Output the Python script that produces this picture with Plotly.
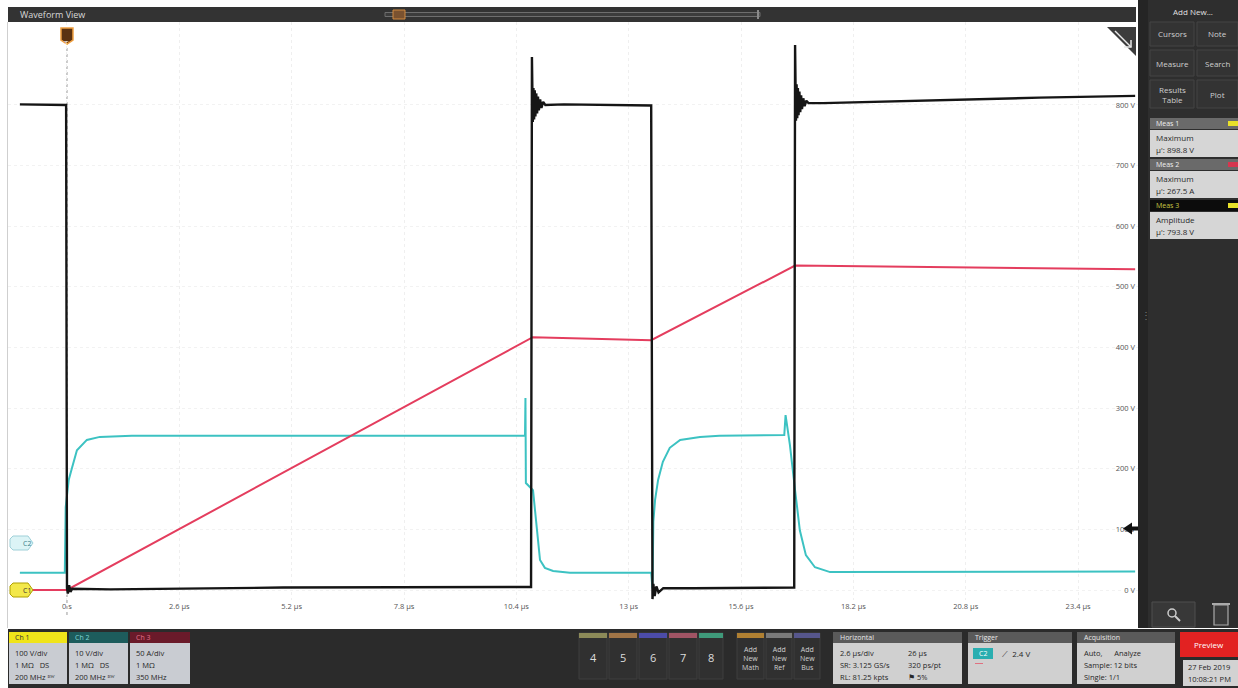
import plotly.graph_objects as go

W, H = 1238, 688
FONT = "Open Sans"

# Vertical channel settings (per graticule division)
CH1_V_PER_DIV = 100      # Ch 1, volts/div
CH2_V_PER_DIV = 10       # Ch 2, volts/div
CH3_A_PER_DIV = 50       # Ch 3, amps/div
CH2_OFFSET_DIV = 0.775   # Ch 2 ground marker position, divisions above Ch 1 ground
TRIG_LEVEL_V = 2.4       # trigger level on Ch 2

# Ch 1 (black) - collector voltage, time in µs, value in V
t_ch1 = [-1.09, -0.02, 0.0, 0.02, 0.05, 0.08, 0.12, 1.0, 5.0, 10.74,
         10.76, 10.78, 10.795, 10.81, 10.825, 10.84, 10.86, 10.88, 10.90, 10.92, 10.95, 10.98, 11.02, 11.07,
         11.5, 12.5, 13.52,
         13.55, 13.57, 13.60, 13.64, 13.69, 13.8, 14.5, 16.0, 16.83,
         16.85, 16.87, 16.885, 16.90, 16.915, 16.93, 16.95, 16.97, 16.99, 17.01, 17.04, 17.07, 17.11, 17.16,
         17.5, 20.0, 22.5, 24.72]
v_ch1 = [801, 800, 3, -6, 8, -3, 2, 1, 4, 5,
         879, 772, 828, 776, 824, 781, 819, 786, 814, 791, 809, 795, 805, 800,
         801, 800, 799,
         -15, 10, -10, 6, -4, 3, 3, 4, 4,
         899, 774, 834, 778, 828, 783, 822, 788, 816, 793, 811, 798, 807, 803,
         803, 808, 812, 815]

# Ch 2 (cyan) - gate voltage, time in µs, value in V
t_ch2 = [-1.09, -0.05, -0.03, 0.04, 0.12, 0.23, 0.46, 0.76, 1.5,
         10.60, 10.61, 10.62, 10.785, 10.877, 10.947, 11.06, 11.25, 11.64,
         13.52, 13.55, 13.57, 13.61, 13.68, 13.79, 13.95, 14.19, 14.65, 15.1,
         16.60, 16.63, 16.73, 16.85, 16.96, 17.10, 17.31, 17.66, 24.72]
v_ch2 = [-4.9, -4.9, 5.9, 10.4, 12.5, 15.3, 17.0, 17.5, 17.7,
         17.7, 23.9, 9.9, 8.7, 2.1, -2.8, -4.1, -4.6, -4.9,
         -4.9, -7.5, 3.5, 7.1, 10.4, 13.4, 15.7, 17.0, 17.5, 17.7,
         17.8, 21.1, 16.2, 8.7, 2.1, -2.0, -4.0, -4.8, -4.7]

# Ch 3 (red) - collector current, time in µs, value in A
t_ch3 = [-1.09, 0.0, 10.78, 13.52, 16.85, 24.72]
i_ch3 = [0.0, 0.0, 208.5, 206.0, 267.5, 264.5]

# Graticule labels
x_ticks = [0, 2.6, 5.2, 7.8, 10.4, 13.0, 15.6, 18.2, 20.8, 23.4]
x_tick_text = ["0 s", "2.6 µs", "5.2 µs", "7.8 µs", "10.4 µs", "13 µs",
               "15.6 µs", "18.2 µs", "20.8 µs", "23.4 µs"]
y_tick_volts = [0, 100, 200, 300, 400, 500, 600, 700, 800]
y_tick_text = ["0 V", "100 V", "200 V", "300 V", "400 V", "500 V", "600 V", "700 V", "800 V"]

# Measurement badges
meas_names = ["Meas 1", "Meas 2", "Meas 3"]
meas_types = ["Maximum", "Maximum", "Amplitude"]
meas_values = ["µ': 898.8 V", "µ': 267.5 A", "µ': 793.8 V"]

# Convert each channel into graticule divisions
y_ch1 = [v / CH1_V_PER_DIV for v in v_ch1]
y_ch2 = [v / CH2_V_PER_DIV + CH2_OFFSET_DIV for v in v_ch2]
y_ch3 = [a / CH3_A_PER_DIV for a in i_ch3]
y_tick_div = [v / CH1_V_PER_DIV for v in y_tick_volts]

fig = go.Figure()
fig.add_trace(go.Scatter(x=t_ch2, y=y_ch2, mode="lines", name="Ch 2",
                         line=dict(color="#3cc2c2", width=2)))
fig.add_trace(go.Scatter(x=t_ch3, y=y_ch3, mode="lines", name="Ch 3",
                         line=dict(color="#e43d5e", width=2)))
fig.add_trace(go.Scatter(x=t_ch1, y=y_ch1, mode="lines", name="Ch 1",
                         line=dict(color="#151515", width=2.4)))

shapes = []
annotations = []


def px(x):
    return x / W


def py(y):
    return 1 - y / H


def rect(x0, y0, x1, y1, fill, line=None, lw=0):
    shapes.append(dict(type="rect", xref="paper", yref="paper",
                       x0=px(x0), x1=px(x1), y0=py(y1), y1=py(y0),
                       fillcolor=fill, line=dict(color=line or fill, width=lw),
                       layer="above"))


def path(pts, fill, line=None, lw=0, xref="paper", yref="paper", closed=True):
    d = "M " + " L ".join(f"{a},{b}" for a, b in pts) + (" Z" if closed else "")
    shapes.append(dict(type="path", path=d, xref=xref, yref=yref,
                       fillcolor=fill, line=dict(color=line or fill, width=lw),
                       layer="above"))


def text(x, y, s, size=8, color="#ffffff", anchor="center"):
    annotations.append(dict(xref="paper", yref="paper", x=px(x), y=py(y), text=s,
                            showarrow=False, xanchor=anchor, yanchor="middle",
                            font=dict(family=FONT, size=size, color=color)))


# Plot frame edge
rect(7, 22, 8, 628, "#cfcfcf")

# Title strip with timeline overview
rect(8, 7, 1136, 22, "#333333")
text(18, 14.5, "Waveform View", 9, "#d8d8d8", "left")
rect(385, 12.5, 760, 16.5, "#3c3c3c", "#6e6e6e", 1)
path([(px(393), py(10)), (px(405), py(10)), (px(405), py(19)), (px(393), py(19))],
     "#7a5230", "#d08a40", 1)
rect(757, 10, 759, 19, "#8a8a8a")

# Trigger position: dotted line and T marker at t = 0
shapes.append(dict(type="line", xref="x", yref="paper", x0=0, x1=0,
                   y0=py(615), y1=py(44), line=dict(color="#9a9a9a", width=1, dash="dot"),
                   layer="below"))
shapes.append(dict(type="path", xref="x", yref="paper", xsizemode="pixel", xanchor=0,
                   path=f"M -6,{py(28)} L 6,{py(28)} L 6,{py(40)} L 0,{py(44)} L -6,{py(40)} Z",
                   fillcolor="#5a3212", line=dict(color="#f0a040", width=1.5), layer="above"))
annotations.append(dict(xref="x", yref="paper", x=0, y=py(35), text="T", showarrow=False,
                        font=dict(family=FONT, size=8, color="#ffffff")))

# Ground markers for Ch 1 and Ch 2
for yval, label, fill, edge, col in [(0.0, "C1", "#f3e84a", "#b0a000", "#333333"),
                                      (CH2_OFFSET_DIV, "C2", "#dcf4f6", "#9fd0d8", "#3a7f8a")]:
    shapes.append(dict(type="path", xref="paper", yref="y", ysizemode="pixel", yanchor=yval,
                       path=(f"M {px(13)},-7 L {px(28)},-7 L {px(33)},0 L {px(28)},7 "
                             f"L {px(13)},7 L {px(10)},4 L {px(10)},-4 Z"),
                       fillcolor=fill, line=dict(color=edge, width=1), layer="above"))
    annotations.append(dict(xref="paper", yref="y", x=px(20.5), y=yval, text=label,
                            showarrow=False, font=dict(family=FONT, size=7, color=col)))

# Trigger level arrow on the right edge (Ch 2 level)
trig_div = TRIG_LEVEL_V / CH2_V_PER_DIV + CH2_OFFSET_DIV
shapes.append(dict(type="path", xref="paper", yref="y", ysizemode="pixel", yanchor=trig_div,
                   path=(f"M {px(1123)},0 L {px(1132)},6 L {px(1132)},2 L {px(1138)},2 "
                         f"L {px(1138)},-2 L {px(1132)},-2 L {px(1132)},-6 Z"),
                   fillcolor="#111111", line=dict(color="#111111", width=0), layer="above"))

# Corner icon of the waveform view
path([(px(1107), py(27)), (px(1136), py(27)), (px(1136), py(56))], "#3c3c3c")
path([(px(1115), py(31)), (px(1131), py(47))], "rgba(0,0,0,0)", "#e8e8e8", 1.5, closed=False)
path([(px(1131), py(40)), (px(1131), py(47)), (px(1124), py(47))], "rgba(0,0,0,0)", "#e8e8e8", 1.5,
     closed=False)

# Right side panel
rect(1138, 0, 1238, 628, "#2e2e2e")
rect(1138, 0, 1148, 628, "#252525")
text(1193, 11, "Add New...", 8, "#e0e0e0")
for (x0, x1, y0, y1, lab) in [(1150, 1194, 22, 46, "Cursors"), (1197, 1238, 22, 46, "Note"),
                              (1150, 1194, 50, 76, "Measure"), (1197, 1238, 50, 76, "Search"),
                              (1150, 1194, 80, 108, "Results<br>Table"), (1197, 1238, 80, 108, "Plot")]:
    rect(x0, y0, x1, y1, "#333333", "#444444", 1)
    text((x0 + x1) / 2, (y0 + y1) / 2, lab, 8, "#cfcfcf")

meas_header = ["#6a6a6a", "#6a6a6a", "#0c0c0c"]
meas_header_text = ["#f0f0f0", "#f0f0f0", "#c8c844"]
meas_flag = ["#e8e02a", "#d8354f", "#e8e02a"]
for k in range(3):
    top = 118 + k * 41
    rect(1150, top, 1238, top + 11, meas_header[k])
    rect(1228, top + 3, 1238, top + 8, meas_flag[k])
    text(1154, top + 5.5, meas_names[k], 7, meas_header_text[k], "left")
    rect(1150, top + 12, 1238, top + 39, "#d6d6d6")
    text(1154, top + 19, meas_types[k], 8, "#2a2a2a", "left")
    text(1154, top + 32, meas_values[k], 8, "#2a2a2a", "left")

text(1146, 315, "⋮", 10, "#777777")
rect(1152, 602, 1195, 627, "#383838", "#4e4e4e", 1)
shapes.append(dict(type="circle", xref="paper", yref="paper", x0=px(1168), x1=px(1176),
                   y0=py(617), y1=py(609), line=dict(color="#cccccc", width=1.5), layer="above"))
path([(px(1175), py(616)), (px(1180), py(621))], "rgba(0,0,0,0)", "#cccccc", 2, closed=False)
rect(1214, 605, 1228, 625, "#3a3a3a", "#aaaaaa", 1.2)
rect(1212, 603, 1230, 605, "#aaaaaa")

# Bottom status bar
rect(8, 629, 1238, 688, "#2b2b2b")

ch_badges = [(9, 67, "Ch 1", "#f0e41a", "#333333", ["100 V/div", "1 MΩ   DS", "200 MHz ᴮᵂ"]),
             (69, 128, "Ch 2", "#1d5c5c", "#7fd6d6", ["10 V/div", "1 MΩ   DS", "200 MHz ᴮᵂ"]),
             (130, 190, "Ch 3", "#6a1a2a", "#e07088", ["50 A/div", "1 MΩ", "350 MHz"])]
for x0, x1, name, hcol, tcol, lines in ch_badges:
    rect(x0, 632, x1, 643, hcol)
    text(x0 + 4, 637.5, name, 7, tcol, "left")
    rect(x0, 643, x1, 684, "#c9ccd2")
    for j, s in enumerate(lines):
        text(x0 + 4, 653 + j * 12, s, 7.5, "#262626", "left")

num_btns = [(579, 607, "4", "#8c8a58"), (609, 637, "5", "#a07446"), (639, 667, "6", "#4c4ca8"),
            (669, 697, "7", "#a05464"), (699, 723, "8", "#3f9a7a")]
for x0, x1, lab, col in num_btns:
    rect(x0, 633, x1, 679, "#303030", "#3e3e3e", 1)
    rect(x0, 633, x1, 638, col)
    text((x0 + x1) / 2, 657, lab, 11, "#dddddd")

add_btns = [(737, 764, "Add<br>New<br>Math", "#b08032"), (766, 792, "Add<br>New<br>Ref", "#7a7a7a"),
            (794, 820, "Add<br>New<br>Bus", "#56568c")]
for x0, x1, lab, col in add_btns:
    rect(x0, 633, x1, 679, "#303030", "#3e3e3e", 1)
    rect(x0, 633, x1, 638, col)
    text((x0 + x1) / 2, 658, lab, 7, "#d0d0d0")

boxes = [(833, 962, "Horizontal"), (968, 1072, "Trigger"), (1077, 1175, "Acquisition")]
for x0, x1, name in boxes:
    rect(x0, 632, x1, 643, "#5a5a5a")
    text(x0 + 5, 637.5, name, 7, "#e8e8e8", "left")
    rect(x0, 643, x1, 684, "#d0d0d0")

for j, (a, b) in enumerate([("2.6 µs/div", "26 µs"), ("SR: 3.125 GS/s", "320 ps/pt"),
                            ("RL: 81.25 kpts", "⚑ 5%")]):
    text(838, 653 + j * 12, a, 7.5, "#262626", "left")
    text(906, 653 + j * 12, b, 7.5, "#262626", "left")

rect(973, 648, 993, 659, "#2aaeb0")
text(983, 653.5, "C2", 7, "#ffffff")
text(1000, 653.5, "⟋  2.4 V", 8, "#262626", "left")
rect(975, 663, 983, 664, "#e07080")

for j, s in enumerate(["Auto,      Analyze", "Sample: 12 bits", "Single: 1/1"]):
    text(1082, 653 + j * 12, s, 7.5, "#262626", "left")

rect(1180, 632, 1238, 657, "#e22222")
text(1209, 644.5, "Preview", 8, "#ffffff")
rect(1183, 660, 1238, 686, "#d2d2d2")
text(1186, 667, "27 Feb 2019", 7.5, "#262626", "left")
text(1186, 679, "10:08:21 PM", 7.5, "#262626", "left")

fig.update_layout(
    width=W, height=H,
    margin=dict(l=0, r=0, t=0, b=0),
    paper_bgcolor="#ffffff",
    plot_bgcolor="#ffffff",
    showlegend=False,
    shapes=shapes,
    annotations=annotations,
    xaxis=dict(domain=[px(8), px(1138)], range=[-1.365, 24.786],
               tickvals=x_ticks, ticktext=x_tick_text, ticks="",
               tickfont=dict(family=FONT, size=7.5, color="#555555"),
               showgrid=True, gridcolor="#efefef", griddash="dot", gridwidth=1,
               zeroline=False, showline=False, fixedrange=True),
    yaxis=dict(domain=[py(600), py(22)], range=[-0.165, 9.368],
               tickvals=y_tick_div, ticktext=y_tick_text, ticks="",
               side="right", ticklabelposition="inside",
               tickfont=dict(family=FONT, size=7.5, color="#555555"),
               showgrid=True, gridcolor="#f2f2f2", griddash="dot", gridwidth=1,
               zeroline=False, showline=False, fixedrange=True),
)

fig.write_html("out.html")
